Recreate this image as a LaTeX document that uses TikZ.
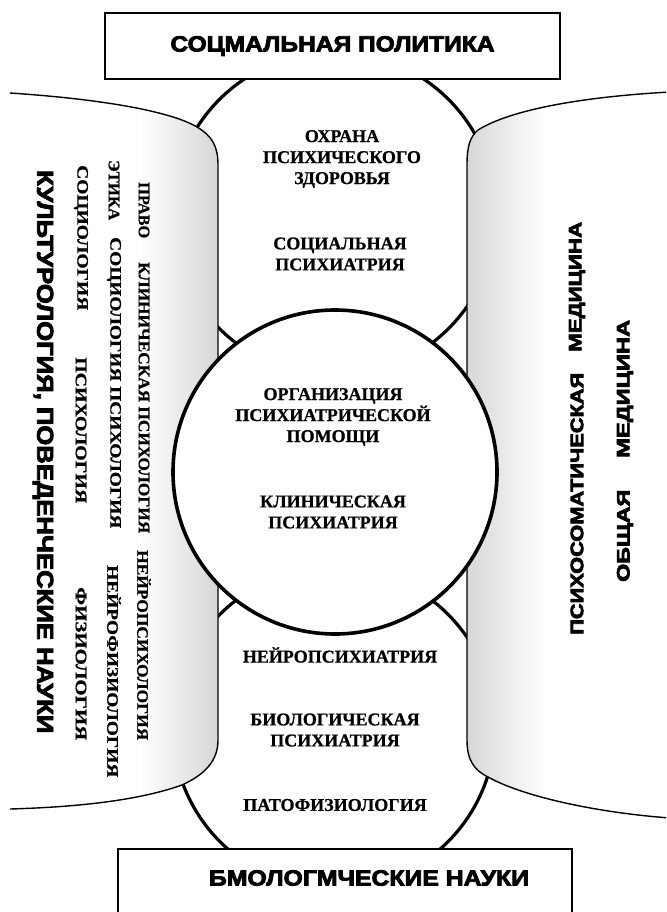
\documentclass[tikz,border=0pt]{standalone}
\usepackage{fontspec}
\setmainfont[BoldFeatures={FakeBold=0.8}]{Liberation Serif}
\newfontfamily\heavy[BoldFeatures={FakeBold=3.5}]{Liberation Sans}
\usepackage{graphicx}
\newcommand\fitto[2]{\resizebox{#1pt}{\height}{#2}}
\tikzset{
 thickarc/.style={line width=3.2pt},
 midcirc/.style={line width=3.6pt, fill=white},
 sideout/.style={line width=1.4pt},
 boxst/.style={draw, line width=1.6pt, fill=white, inner sep=0pt},
 itxt/.style={align=center, font=\fontsize{18}{21}\selectfont\bfseries, inner sep=0pt},
 lcol/.style={rotate=-90, anchor=west, inner sep=0pt, font=\fontsize{16}{16}\selectfont\bfseries},
 lbig/.style={rotate=-90, anchor=west, inner sep=0pt, font=\heavy\fontsize{23}{23}\selectfont\bfseries},
 rcol/.style={rotate=90, anchor=west, inner sep=0pt, font=\heavy\fontsize{18}{18}\selectfont\bfseries},
 ttl/.style={font=\heavy\fontsize{22}{22}\selectfont\bfseries},
 band/.style={left color=white, right color=black!16},
 bandr/.style={left color=black!16, right color=white}
}
\begin{document}
\begin{tikzpicture}[x=1pt,y=-1pt]
\useasboundingbox (0,0) rectangle (666,912);
\clip (0,0) rectangle (666,912);
\fill[white] (0,0) rectangle (666,912);
\coordinate (ct) at (334,214);
\coordinate (cm) at (335,472);
\coordinate (cb) at (334,728);
% outer thick circles (top and bottom)
\draw[thickarc] (ct) circle[radius=162pt];
\draw[thickarc] (cb) circle[radius=161pt];
% boxes
\node[boxst, ttl, minimum width=455pt, minimum height=66pt] (soc) at (332.5,46) {\fitto{324}{СОЦМАЛЬНАЯ ПОЛИТИКА}};
\node[boxst, minimum width=454pt, minimum height=81pt] (biobox) at (345,889.5) {};
\node[ttl, inner sep=0pt] (bio) at (369,878) {\fitto{320}{БМОЛОГМЧЕСКИЕ НАУКИ}};
% left shape
\begin{scope}
\clip (0,93) -- (10,93) .. controls (100,99) and (170,111) .. (197,127) .. controls (212,136) and (218,146) .. (218,165) -- (218,740) .. controls (218,760) and (206,774) .. (182,785) .. controls (140,800) and (80,807) .. (10,809) -- (0,809) -- cycle;
\fill[white] (0,0) rectangle (230,912);
\shade[band] (140,0) rectangle (219,912);
\end{scope}
\draw[sideout] (10,93) .. controls (100,99) and (170,111) .. (197,127) .. controls (212,136) and (218,146) .. (218,165) -- (218,740) .. controls (218,760) and (206,774) .. (182,785) .. controls (140,800) and (80,807) .. (10,809);
% right shape
\begin{scope}
\clip (670,92) .. controls (580,97) and (510,110) .. (478,130) .. controls (470,137) and (467,146) .. (467,165) -- (467,740) .. controls (467,760) and (474,770) .. (488,777) .. controls (520,795) and (590,812) .. (670,818) -- cycle;
\fill[white] (440,0) rectangle (670,912);
\shade[bandr] (466,0) rectangle (545,912);
\end{scope}
\draw[sideout] (670,92) .. controls (580,97) and (510,110) .. (478,130) .. controls (470,137) and (467,146) .. (467,165) -- (467,740) .. controls (467,760) and (474,770) .. (488,777) .. controls (520,795) and (590,812) .. (670,818);
% middle circle
\draw[midcirc] (cm) circle[radius=162pt];
% inner texts
\node[itxt] (oxr) at (342,159) {ОХРАНА\\ПСИХИЧЕСКОГО\\ЗДОРОВЬЯ};
\node[itxt] (socp) at (340,254) {СОЦИАЛЬНАЯ\\ПСИХИАТРИЯ};
\node[itxt] (org) at (333,417) {ОРГАНИЗАЦИЯ\\ПСИХИАТРИЧЕСКОЙ\\ПОМОЩИ};
\node[itxt] (klin) at (333,512) {КЛИНИЧЕСКАЯ\\ПСИХИАТРИЯ};
\node[itxt] (neur) at (340,655) {НЕЙРОПСИХИАТРИЯ};
\node[itxt] (biol) at (335,730) {БИОЛОГИЧЕСКАЯ\\ПСИХИАТРИЯ};
\node[itxt] (pato) at (335,805) {ПАТОФИЗИОЛОГИЯ};
% left columns
\node[lcol] (l1a) at (144,182) {\fitto{56}{ПРАВО}};
\node[lcol] (l1b) at (144,262) {\fitto{271}{КЛИНИЧЕСКАЯ ПСИХОЛОГИЯ}};
\node[lcol] (l1c) at (144,550) {\fitto{190}{НЕЙРОПСИХОЛОГИЯ}};
\node[lcol] (l2a) at (114,160) {\fitto{60}{ЭТИКА}};
\node[lcol] (l2b) at (114,237) {\fitto{291}{СОЦИОЛОГИЯ ПСИХОЛОГИЯ}};
\node[lcol] (l2c) at (114,565) {\fitto{212}{НЕЙРОФИЗИОЛОГИЯ}};
\node[lcol] (l3a) at (81,165) {\fitto{145}{СОЦИОЛОГИЯ}};
\node[lcol] (l3b) at (81,357) {\fitto{146}{ПСИХОЛОГИЯ}};
\node[lcol] (l3c) at (81,587) {\fitto{153}{ФИЗИОЛОГИЯ}};
\node[lbig] (l4) at (43,170) {\fitto{563}{КУЛЬТУРОЛОГИЯ, ПОВЕДЕНЧЕСКИЕ НАУКИ}};
% right columns
\node[rcol] (r1a) at (577,635) {\fitto{262}{ПСИХОСОМАТИЧЕСКАЯ}};
\node[rcol] (r1b) at (577,352) {\fitto{130}{МЕДИЦИНА}};
\node[rcol] (r2a) at (625,582) {\fitto{92}{ОБЩАЯ}};
\node[rcol] (r2b) at (625,458) {\fitto{138}{МЕДИЦИНА}};
\end{tikzpicture}
\end{document}
